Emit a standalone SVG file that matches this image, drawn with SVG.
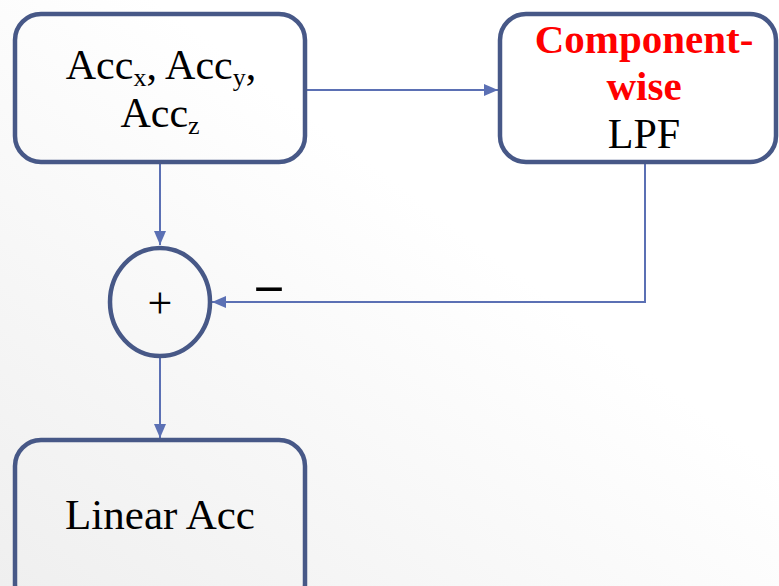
<svg xmlns="http://www.w3.org/2000/svg" width="779" height="586" viewBox="0 0 779 586">
<defs>
<linearGradient id="bg" x1="1" y1="0" x2="0" y2="1">
<stop offset="0.4" stop-color="#ffffff"/>
<stop offset="1" stop-color="#efefef"/>
</linearGradient>
<marker id="arr" viewBox="0 0 14 12" refX="14" refY="6" markerWidth="14" markerHeight="12" markerUnits="userSpaceOnUse" orient="auto">
<path d="M0,0 L14,6 L0,12 Z" fill="#5b70b4"/>
</marker>
<style>
.node{fill:none;stroke:#475887;stroke-width:4.5}
.conn{fill:none;stroke:#5b70b4;stroke-width:2;marker-end:url(#arr)}
.t{font-family:"Liberation Serif","Times New Roman",serif;fill:#000;text-anchor:middle}
.red{fill:#ff0000;font-weight:bold}
</style>
</defs>
<rect width="779" height="586" fill="url(#bg)"/>
<g id="connectors">
<path class="conn" d="M307,90 H498"/>
<path class="conn" d="M160,164 V245"/>
<path class="conn" d="M645,163 V302 H212"/>
<path class="conn" d="M160,358 V438"/>
</g>
<g id="acc-input">
<rect class="node" x="15" y="14" width="290" height="148" rx="26"/>
<text class="t" x="161" y="79" font-size="42">Acc<tspan font-size="26" dy="7">x</tspan><tspan dy="-7">, Acc</tspan><tspan font-size="26" dy="7">y</tspan><tspan dy="-7">,</tspan></text>
<text class="t" x="160" y="127" font-size="42">Acc<tspan font-size="26" dy="7">z</tspan></text>
</g>
<g id="lpf">
<rect class="node" x="500" y="14" width="276" height="148" rx="26"/>
<text class="t red" x="644" y="53" font-size="41">Component-</text>
<text class="t red" x="644" y="100" font-size="41">wise</text>
<text class="t" x="644" y="148" font-size="42">LPF</text>
</g>
<g id="sum">
<ellipse class="node" cx="160" cy="302" rx="50" ry="54"/>
<text class="t" x="160" y="318" font-size="44">+</text>
<text class="t" x="269" y="301" font-size="50" font-weight="bold">–</text>
</g>
<g id="linear-acc">
<rect class="node" x="15" y="440" width="290" height="170" rx="26"/>
<text class="t" x="160" y="529" font-size="43">Linear Acc</text>
</g>
</svg>
